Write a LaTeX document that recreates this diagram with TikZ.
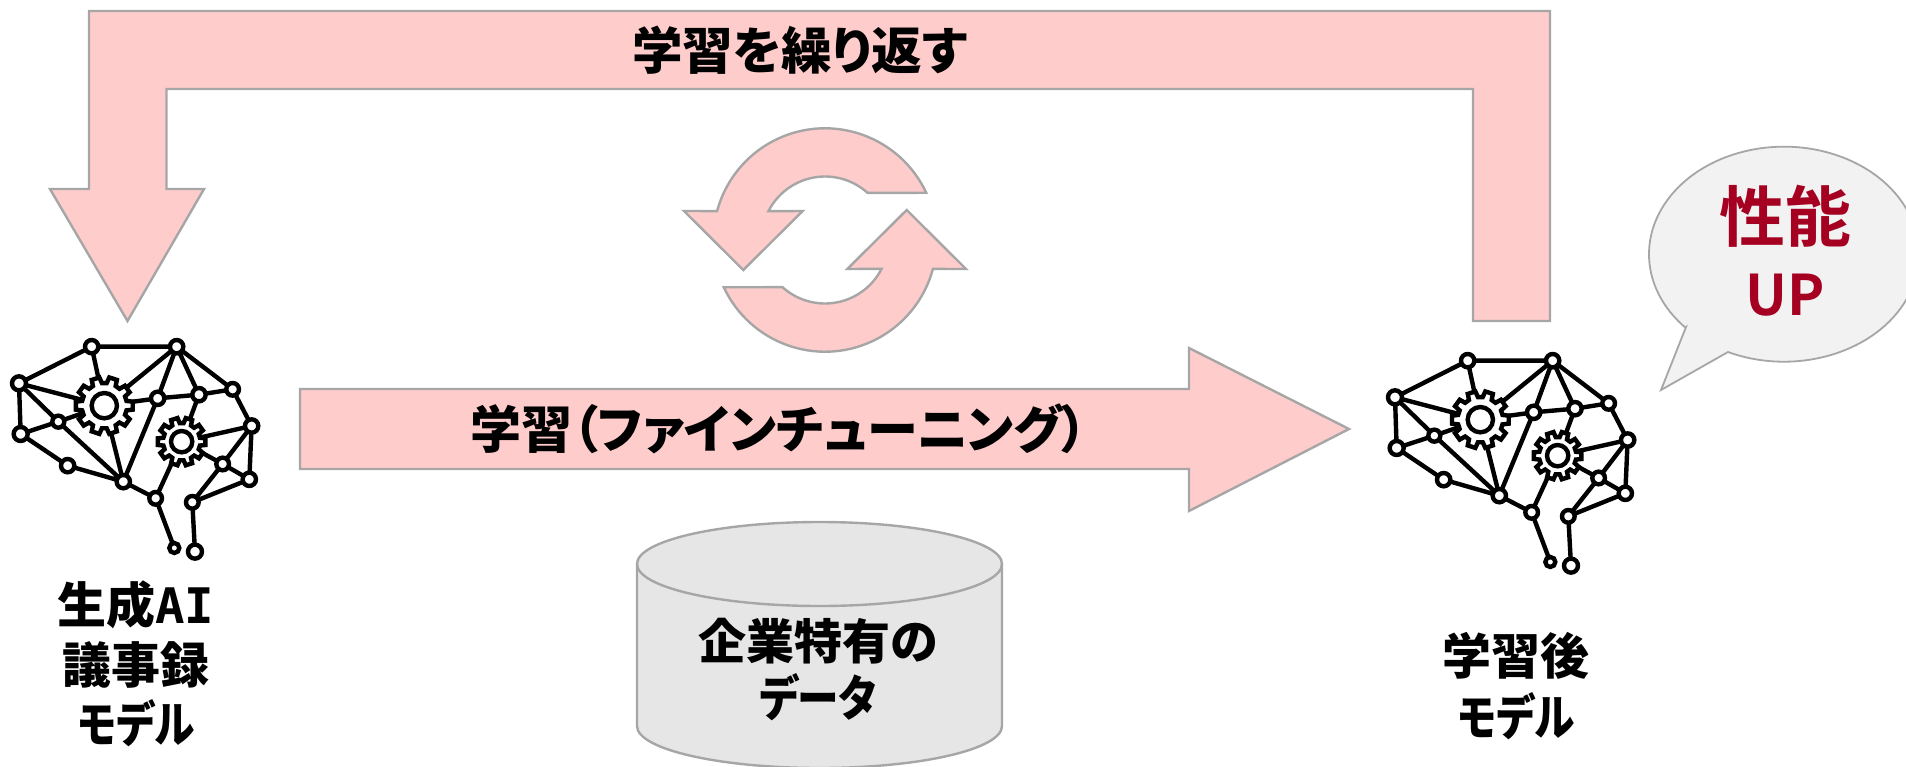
\documentclass[tikz,border=0pt]{standalone}
\usepackage{graphicx}
\usepackage{fontspec}
\setmainfont{Noto Sans CJK JP}[BoldFont={* Bold},RawFeature=+palt]
\newfontfamily\heavy{Noto Sans CJK JP Black}[RawFeature=+palt]
\newfontfamily\monob{DejaVu Sans Mono}[BoldFont={* Bold}]
\definecolor{pinkf}{HTML}{FFCCCC}
\definecolor{edgeg}{HTML}{A6A6A6}
\definecolor{dbf}{HTML}{E6E6E6}
\definecolor{bubf}{HTML}{F2F2F2}
\definecolor{upred}{HTML}{A50021}
\newcommand{\brGear}[5]{%
  \draw[brainline,fill=white,shift={(#1,#2)}] (-12:#4)
    \foreach \a in {0,36,...,324} { -- ({\a-12}:#4) -- ({\a-8}:#3) -- ({\a+8}:#3) -- ({\a+12}:#4) } -- cycle;
  \draw[brainline,fill=white] (#1,#2) circle (#5);}
\tikzset{
  x=1pt,y=-1pt,
  pinkshape/.style={draw=edgeg,fill=pinkf,line width=2.4pt,line join=miter},
  label/.style={font=\heavy\fontsize{49}{53}\selectfont,text=black,inner sep=0pt,align=center},
  brainline/.style={line width=4.4pt,draw=black},
  brainedge/.style={line width=4.4pt,draw=black},
  brainnode/.style={line width=4.4pt,draw=black,fill=white},
  pics/brain/.style={code={
    \coordinate (-a) at (275,80);
    \coordinate (-b) at (530,80);
    \coordinate (-c) at (57,190);
    \coordinate (-d) at (62,342);
    \coordinate (-e) at (175,305);
    \coordinate (-f) at (203,437);
    \coordinate (-g) at (370,485);
    \coordinate (-h) at (473,235);
    \coordinate (-i) at (597,224);
    \coordinate (-j) at (698,208);
    \coordinate (-k) at (755,318);
    \coordinate (-l) at (668,432);
    \coordinate (-m) at (748,478);
    \coordinate (-n) at (467,535);
    \coordinate (-o) at (577,547);
    \coordinate (-p) at (523,684);
    \coordinate (-q) at (585,695);
    \coordinate (-G) at (313,257);
    \coordinate (-H) at (545,365);
    \draw[brainedge] (-a)--(-b) (-a)--(-c) (-a)--(-G) (-b)--(-G) (-b)--(-h) (-b)--(-i) (-b)--(-j)
      (-c)--(-d) (-c)--(-e) (-c)--(-G) (-d)--(-e) (-e)--(-G) (-e)--(-g) (-d)--(-f) (-f)--(-g)
      (-G)--(-g) (-h)--(-g) (-h)--(-G) (-h)--(-i) (-i)--(-j) (-i)--(-H) (-j)--(-k) (-k)--(-H)
      (-k)--(-l) (-k)--(-m) (-H)--(-l) (-l)--(-m) (-l)--(-o) (-m)--(-o) (-H)--(-n) (-g)--(-n)
      (-n)--(-p) (-o)--(-q);
    \brGear{313}{257}{86}{68}{38}
    \brGear{545}{365}{72}{56}{32}
    \foreach \n/\r in {a/20,b/20,c/21,d/21,e/18,f/20,g/20,h/20,i/20,j/19,k/20,l/19,m/20,n/19,o/19,p/15,q/21}
      \draw[brainnode] (-\n) circle (\r);
  }},
}
\begin{document}
\begin{tikzpicture}
\useasboundingbox (0,0) rectangle (1906,766);
\clip (0,0) rectangle (1906,766);
% loop arrow
\draw[pinkshape] (89,11) -- (1550,11) -- (1550,321) -- (1473,321) -- (1473,89) -- (166.5,89)
  -- (166.5,189) -- (204,189) -- (127.5,321) -- (50,189) -- (89,189) -- cycle;
\node[label,font=\heavy\fontsize{50.5}{56}\selectfont] (repeat) at (800,50) {学習を繰り返す};
% cycle arrows
\coordinate (cyc) at (825,240);
\draw[pinkshape] ([shift={(-25:111.7)}]cyc) arc[start angle=-25,end angle=-165,radius=111.7]
  -- (684,211) -- (743.3,270) -- (802.7,211) -- ([shift={(-153:63.5)}]cyc)
  arc[start angle=-153,end angle=-48,radius=63.5] -- cycle;
\draw[pinkshape] ([shift={(155:111.7)}]cyc) arc[start angle=155,end angle=15,radius=111.7]
  -- (966,269) -- (906.7,210) -- (847.3,269) -- ([shift={(27:63.5)}]cyc)
  arc[start angle=27,end angle=132,radius=63.5] -- cycle;
% main arrow
\draw[pinkshape] (300,389) -- (1189,389) -- (1189,348) -- (1349,429) -- (1189,511) -- (1189,469) -- (300,469) -- cycle;
\node[label,font=\heavy\fontsize{51}{56}\selectfont] (learn) at (779,429) {学習（ファインチューニング）};
% database
\draw[draw=edgeg,fill=dbf,line width=2.4pt] (637,564) -- (637,726)
  arc[start angle=180,end angle=0,x radius=182.5,y radius=42] -- (1002,564)
  arc[start angle=0,end angle=-180,x radius=182.5,y radius=42] -- cycle;
\draw[draw=edgeg,line width=2.4pt] (637,564) arc[start angle=180,end angle=0,x radius=182.5,y radius=42];
\node[label,font=\heavy\fontsize{48}{52}\selectfont] (db1) at (818,641) {企業特有の};
\node[label] (db2) at (818,697) {\scalebox{0.85}[1]{データ}};
% brains
\pic[scale=0.3333] (bL) at (0,320) {brain};
\pic[scale=0.3333] (bR) at (1376,334) {brain};
\node[label] (l1) at (136,605) {生成{\monob\bfseries AI}};
\node[label] (l2) at (136,665) {議事録};
\node[label] (l3) at (136,723) {\scalebox{0.83}[1]{モデル}};
\node[label] (r1) at (1516,656) {学習後};
\node[label] (r2) at (1516,716) {\scalebox{0.83}[1]{モデル}};
% bubble
\draw[draw=edgeg,fill=bubf,line width=1.8pt] (1686,327) -- (1661,390) -- (1728,352)
  arc[start angle=114.5,end angle=-223,x radius=135,y radius=107.5] -- cycle;
\node[label,text=upred,font=\bfseries\fontsize{66}{70}\selectfont] (perf) at (1785,216) {性能};
\node[label,text=upred,font=\bfseries\fontsize{56}{60}\selectfont] (up) at (1785,295) {UP};
\end{tikzpicture}
\end{document}
